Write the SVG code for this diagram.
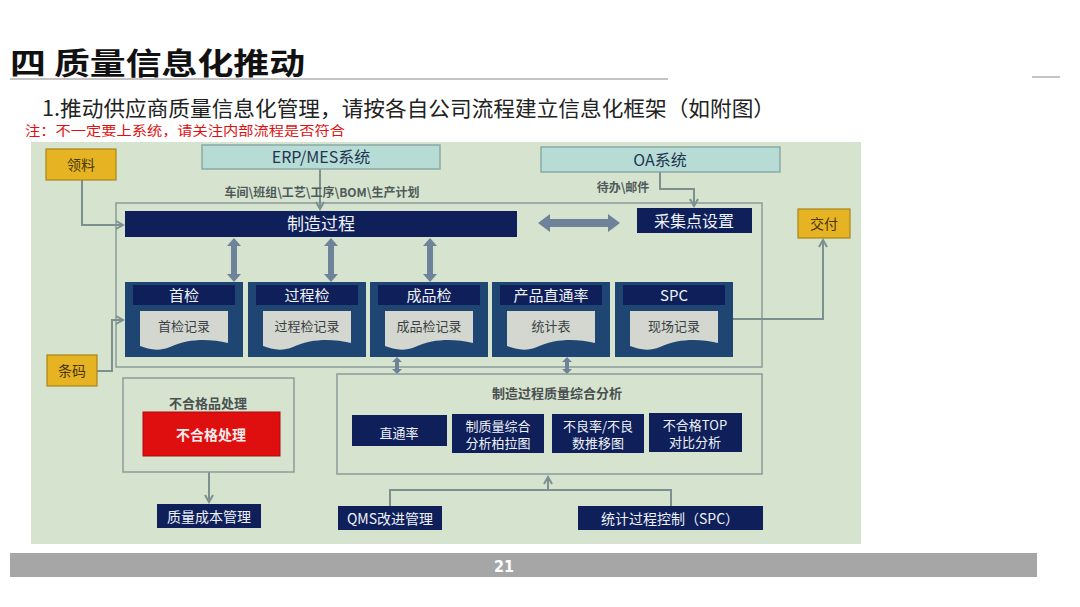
<svg xmlns="http://www.w3.org/2000/svg" width="1080" height="607" viewBox="0 0 1080 607">
<defs>
<style>
text{font-family:"Noto Sans CJK SC","Noto Sans",sans-serif;text-anchor:middle}
.navy{fill:#0f1f5a}
.wt{fill:#eef2f7}
.mod{fill:#1f4673}
.hdr{fill:#0f1f5a}
.doc{fill:#d3d7cf}
.doct{fill:#3a3f46;font-size:13px}
.gold{fill:#e6b422;stroke:#a88418;stroke-width:1.2}
.goldt{fill:#4a3408;font-size:14px}
.teal{fill:#b7dcd6;stroke:#8aa9a5;stroke-width:1.5}
.tealt{fill:#1d3550;font-size:16px}
.frame{fill:none;stroke:#8a9b9b;stroke-width:1.5}
.conn{fill:none;stroke:#7d9090;stroke-width:2}
.dbl{fill:#6e8299}
.lbl{fill:#505a5a;font-size:12px;font-weight:bold}
</style>
<marker id="ah" viewBox="0 0 10 10" refX="8" refY="5" markerWidth="10" markerHeight="10" markerUnits="userSpaceOnUse" orient="auto">
<path d="M1,1 L8,5 L1,9" fill="none" stroke="#7d9090" stroke-width="2"/>
</marker>
</defs>
<rect width="1080" height="607" fill="#ffffff"/>

<g id="header">
<text x="10" y="74" style="text-anchor:start;font-size:30px;font-weight:bold;fill:#111" textLength="295" lengthAdjust="spacingAndGlyphs">四 质量信息化推动</text>
<line x1="10" y1="79" x2="668" y2="79" stroke="#b0b0b0" stroke-width="1.5"/>
<line x1="1032" y1="77" x2="1060" y2="77" stroke="#b0b0b0" stroke-width="1.5"/>
<text x="42" y="116" style="text-anchor:start;font-size:21px;fill:#222" textLength="733" lengthAdjust="spacingAndGlyphs">1.推动供应商质量信息化管理，请按各自公司流程建立信息化框架（如附图）</text>
<text x="25" y="135" style="text-anchor:start;font-size:13px;fill:#e01010" textLength="320" lengthAdjust="spacingAndGlyphs">注：不一定要上系统，请关注内部流程是否符合</text>
</g>

<rect x="31" y="142" width="830" height="402" fill="#d6e4cf"/>

<g id="frame-main"><rect class="frame" x="116" y="203" width="646" height="164"/></g>

<g id="connectors">
<path class="conn" d="M320,169 V209" marker-end="url(#ah)"/>
<path class="conn" d="M82,180 V225 H123" marker-end="url(#ah)"/>
<path class="conn" d="M660,172 V189 H694 V206" marker-end="url(#ah)"/>
<path class="conn" d="M97,371 H112 V320 H123" marker-end="url(#ah)"/>
<path class="conn" d="M733,319 H823 V240" marker-end="url(#ah)"/>
<path class="conn" d="M209,472 V502" marker-end="url(#ah)"/>
<path class="conn" d="M390,506 V490 H671 V506"/>
<path class="conn" d="M548,490 V477" marker-end="url(#ah)"/>
<polygon class="dbl" points="538,223 550,214 550,219 608,219 608,214 620,223 608,232 608,227 550,227 550,232"/>
<polygon class="dbl" points="234,238 241,246 237,246 237,274 241,274 234,282 227,274 231,274 231,246 227,246"/>
<polygon class="dbl" points="331,238 338,246 334,246 334,274 338,274 331,282 324,274 328,274 328,246 324,246"/>
<polygon class="dbl" points="430,238 437,246 433,246 433,274 437,274 430,282 423,274 427,274 427,246 423,246"/>
<polygon class="dbl" points="397,357 402,362 399,362 399,369 402,369 397,374 392,369 395,369 395,362 392,362"/>
<polygon class="dbl" points="567,357 572,362 569,362 569,369 572,369 567,374 562,369 565,369 565,362 562,362"/>
</g>

<g id="lingliao"><rect class="gold" x="46" y="149" width="70" height="31"/><text class="goldt" x="81" y="170">领料</text></g>
<g id="tiaoma"><rect class="gold" x="47" y="355" width="50" height="31"/><text class="goldt" x="72" y="376">条码</text></g>
<g id="jiaofu"><rect class="gold" x="798" y="209" width="52" height="29"/><text class="goldt" x="824" y="229">交付</text></g>

<g id="erp"><rect class="teal" x="202" y="145" width="238" height="24"/><text class="tealt" x="321" y="163">ERP/MES系统</text></g>
<text class="lbl" x="322" y="197">车间\班组\工艺\工序\BOM\生产计划</text>
<g id="oa"><rect class="teal" x="541" y="147" width="239" height="25"/><text class="tealt" x="660" y="166">OA系统</text></g>
<text class="lbl" x="623" y="192">待办\邮件</text>

<g id="zhizao"><rect class="navy" x="125" y="211" width="392" height="26"/><text class="wt" x="321" y="230" style="font-size:17px">制造过程</text></g>
<g id="caiji"><rect class="navy" x="637" y="208" width="115" height="25"/><text class="wt" x="694" y="227" style="font-size:16px">采集点设置</text></g>

<g id="m1"><rect class="mod" x="125" y="282" width="118" height="75"/><rect class="hdr" x="133" y="285" width="102" height="20"/><text class="wt" x="184" y="301" style="font-size:15px">首检</text><path class="doc" d="M140,311 H228 V343 C210,339 190,338 170,347 C158,352 148,349 140,346 Z"/><text class="doct" x="184" y="331">首检记录</text></g>
<g id="m2"><rect class="mod" x="248" y="282" width="118" height="75"/><rect class="hdr" x="256" y="285" width="102" height="20"/><text class="wt" x="307" y="301" style="font-size:15px">过程检</text><path class="doc" d="M263,311 H351 V343 C333,339 313,338 293,347 C281,352 271,349 263,346 Z"/><text class="doct" x="307" y="331">过程检记录</text></g>
<g id="m3"><rect class="mod" x="370" y="282" width="118" height="75"/><rect class="hdr" x="378" y="285" width="102" height="20"/><text class="wt" x="429" y="301" style="font-size:15px">成品检</text><path class="doc" d="M385,311 H473 V343 C455,339 435,338 415,347 C403,352 393,349 385,346 Z"/><text class="doct" x="429" y="331">成品检记录</text></g>
<g id="m4"><rect class="mod" x="492" y="282" width="118" height="75"/><rect class="hdr" x="500" y="285" width="102" height="20"/><text class="wt" x="551" y="301" style="font-size:15px">产品直通率</text><path class="doc" d="M507,311 H595 V343 C577,339 557,338 537,347 C525,352 515,349 507,346 Z"/><text class="doct" x="551" y="331">统计表</text></g>
<g id="m5"><rect class="mod" x="615" y="282" width="118" height="75"/><rect class="hdr" x="623" y="285" width="102" height="20"/><text class="wt" x="674" y="301" style="font-size:15px">SPC</text><path class="doc" d="M630,311 H718 V343 C700,339 680,338 660,347 C648,352 638,349 630,346 Z"/><text class="doct" x="674" y="331">现场记录</text></g>

<g id="buhege"><rect class="frame" x="123" y="378" width="171" height="94"/><text x="208" y="408" style="font-size:13px;font-weight:bold;fill:#4a5050">不合格品处理</text><rect x="143" y="412" width="137" height="44" fill="#e00f0f" stroke="#b00a0a"/><text x="211" y="440" style="font-size:14px;font-weight:bold;fill:#f4ecec">不合格处理</text></g>
<g id="chengben"><rect class="navy" x="157" y="504" width="104" height="24"/><text class="wt" x="209" y="522" style="font-size:14px">质量成本管理</text></g>

<g id="fenxi"><rect class="frame" x="337" y="374" width="425" height="100"/><text x="557" y="398" style="font-size:13px;font-weight:bold;fill:#4a5050">制造过程质量综合分析</text>
<rect class="navy" x="352" y="415" width="95" height="31"/><text class="wt" x="399" y="438" style="font-size:13px">直通率</text>
<rect class="navy" x="452" y="414" width="92" height="39"/><text class="wt" x="498" y="431" style="font-size:13px">制质量综合</text><text class="wt" x="498" y="448" style="font-size:13px">分析柏拉图</text>
<rect class="navy" x="552" y="414" width="92" height="39"/><text class="wt" x="598" y="431" style="font-size:13px">不良率/不良</text><text class="wt" x="598" y="448" style="font-size:13px">数推移图</text>
<rect class="navy" x="649" y="413" width="93" height="39"/><text class="wt" x="695" y="430" style="font-size:13px">不合格TOP</text><text class="wt" x="695" y="447" style="font-size:13px">对比分析</text>
</g>
<g id="qms"><rect class="navy" x="338" y="506" width="104" height="24"/><text class="wt" x="390" y="524" style="font-size:14px">QMS改进管理</text></g>
<g id="spc2"><rect class="navy" x="578" y="506" width="185" height="24"/><text class="wt" x="670" y="524" style="font-size:14px">统计过程控制（SPC）</text></g>

<g id="footer"><rect x="10" y="553" width="1027" height="24" fill="#a6a6a6"/><text x="504" y="572" style="font-size:16px;font-weight:bold;fill:#ffffff;font-family:'Liberation Sans Narrow','DejaVu Sans Condensed',sans-serif">21</text></g>
</svg>
